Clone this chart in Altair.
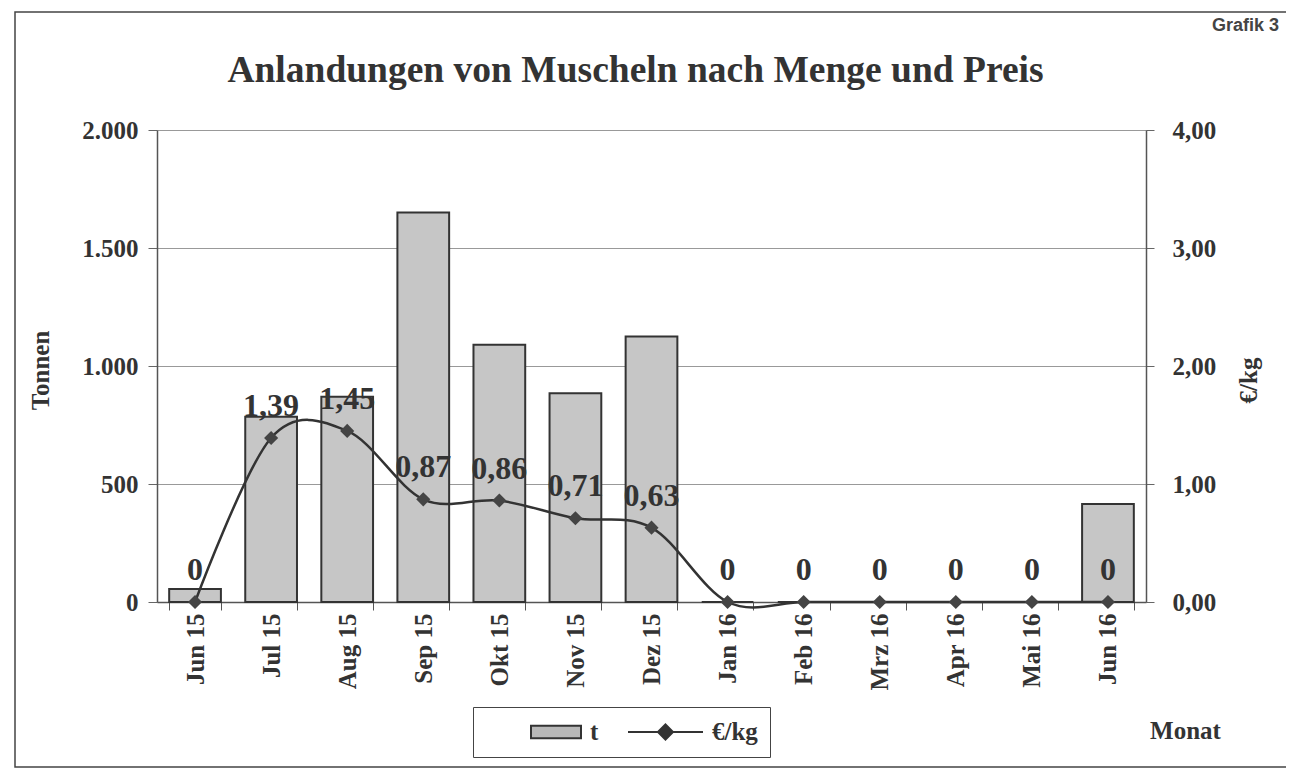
import altair as alt
import pandas as pd

# ---- data ----
months = ["Jun 15", "Jul 15", "Aug 15", "Sep 15", "Okt 15", "Nov 15", "Dez 15",
          "Jan 16", "Feb 16", "Mrz 16", "Apr 16", "Mai 16", "Jun 16"]
tonnes = [55, 785, 870, 1650, 1090, 885, 1125, 0, 0, 0, 0, 0, 415]
price = [0, 1.39, 1.45, 0.87, 0.86, 0.71, 0.63, 0, 0, 0, 0, 0, 0]
series_names = ["t", "€/kg"]
left_ticks = [0, 500, 1000, 1500, 2000]
right_ticks = [0, 1, 2, 3, 4]

df = pd.DataFrame({"Monat": months, "t": tonnes, "preis": price})
legend_df = pd.DataFrame({"serie": series_names})
one = pd.DataFrame({"a": [0]})

SERIF = "Liberation Serif"
INK = "#333333"
W, H = 989, 472

x_enc = alt.X(
    "Monat:N", sort=months,
    scale=alt.Scale(paddingInner=0.32, paddingOuter=0.16),
    axis=alt.Axis(
        title="Monat", titleX=1028, titleY=128, titleAlign="center", titleBaseline="middle",
        titleFont=SERIF, titleFontSize=25, titleFontWeight="bold", titleColor=INK,
        labelAngle=270, labelFont=SERIF, labelFontSize=25, labelFontWeight="bold",
        labelColor=INK, labelPadding=3, tickBand="extent", tickSize=8,
        tickColor="#555", domainColor="#555", domainWidth=1.5, grid=False,
    ),
)
x_plain = alt.X("Monat:N", sort=months)

bars = alt.Chart(df).mark_bar(
    fill="#c6c6c6", stroke=INK, strokeWidth=2
).encode(
    x=x_enc,
    y=alt.Y(
        "t:Q", scale=alt.Scale(domain=[0, 2000], nice=False),
        axis=alt.Axis(
            orient="left", values=left_ticks,
            labelExpr="replace(format(datum.value, ','), ',', '.')",
            title="Tonnen", titleAngle=270, titleX=-117, titleY=240,
            titleAlign="center", titleBaseline="middle",
            titleFont=SERIF, titleFontSize=25, titleFontWeight="bold", titleColor=INK,
            labelFont=SERIF, labelFontSize=25, labelFontWeight="bold", labelColor=INK,
            labelPadding=10, tickSize=9, tickColor="#666", domainColor="#555",
            domainWidth=1.5, grid=True, gridColor="#999", gridWidth=1,
        ),
    ),
)

y_price = alt.Y(
    "preis:Q", scale=alt.Scale(domain=[0, 4], nice=False),
    axis=alt.Axis(
        orient="right", values=right_ticks,
        labelExpr="replace(format(datum.value, '.2f'), '.', ',')",
        title="€/kg", titleAngle=270, titleX=102, titleY=250,
        titleAlign="center", titleBaseline="middle",
        titleFont=SERIF, titleFontSize=25, titleFontWeight="bold", titleColor=INK,
        labelFont=SERIF, labelFontSize=25, labelFontWeight="bold", labelColor=INK,
        labelPadding=18, tickSize=8, tickColor="#666", domainColor="#555",
        domainWidth=1.5, grid=False,
    ),
)

line = alt.Chart(df).mark_line(
    interpolate="cardinal", color=INK, strokeWidth=2.5
).encode(x=x_plain, y=y_price)

points = alt.Chart(df).mark_point(
    shape="diamond", filled=True, size=200, color="#444444", opacity=1
).encode(x=x_plain, y="preis:Q")

labels = alt.Chart(df).transform_calculate(
    lbl="datum.preis == 0 ? '0' : replace(format(datum.preis, '.2f'), '.', ',')"
).mark_text(
    font=SERIF, fontSize=32, fontWeight="bold", color=INK,
    baseline="alphabetic", dy=-22
).encode(x=x_plain, y="preis:Q", text="lbl:N")

price_layer = alt.layer(line, points, labels)

# legend symbols (unit square -1..1 = 95 px)
rect_path = "M-0.053,-0.13H1V0.13H-0.053Z"
line_diamond_path = "M-0.579,0L1,0M0.052,0L0.21,-0.158L0.368,0L0.21,0.158Z"

legend_layer = alt.Chart(legend_df).mark_point(
    filled=True, opacity=0, stroke=INK, strokeWidth=2
).encode(
    shape=alt.Shape("serie:N", scale=alt.Scale(domain=series_names,
                                                 range=[rect_path, line_diamond_path]),
                    legend=None),
    color=alt.Color(
        "serie:N",
        scale=alt.Scale(domain=series_names, range=["#b8b8b8", INK]),
        legend=alt.Legend(
            title=None, orient="none", legendX=316, legendY=577,
            direction="horizontal", symbolSize=9025, symbolOpacity=1,
            symbolStrokeColor=INK, symbolStrokeWidth=2, clipHeight=26,
            labelFont=SERIF, labelFontSize=25, labelFontWeight="bold", labelColor=INK,
            labelOffset=8, columnPadding=8, padding=12,
            strokeColor="#444", fillColor="white",
        ),
    ),
)

frame = alt.Chart(one).mark_rect(
    fillOpacity=0, stroke="#444", strokeWidth=1.5
).encode(
    x=alt.value(-142), x2=alt.value(1140), y=alt.value(-118), y2=alt.value(637)
)

grafik = alt.Chart(one).mark_text(
    text="Grafik 3", font="Liberation Sans", fontSize=18, fontWeight="bold",
    color="#444", align="left", baseline="alphabetic"
).encode(x=alt.value(1055), y=alt.value(-99))

chart = alt.layer(
    frame, grafik, bars, price_layer, legend_layer
).resolve_scale(
    y="independent"
).properties(
    width=W, height=H,
    padding={"left": 149, "top": 122, "right": 140, "bottom": 167},
    autosize=alt.AutoSizeParams(type="none"),
    title=alt.Title(
        "Anlandungen von Muscheln nach Menge und Preis",
        font=SERIF, fontSize=37.5, fontWeight="bold", color=INK,
        anchor="middle", frame="group", offset=0, dx=-16, dy=108,
        baseline="alphabetic",
    ),
).configure_view(stroke=None).configure(background="white")

chart.save("out.html", embed_options={"renderer": "svg", "actions": False})
